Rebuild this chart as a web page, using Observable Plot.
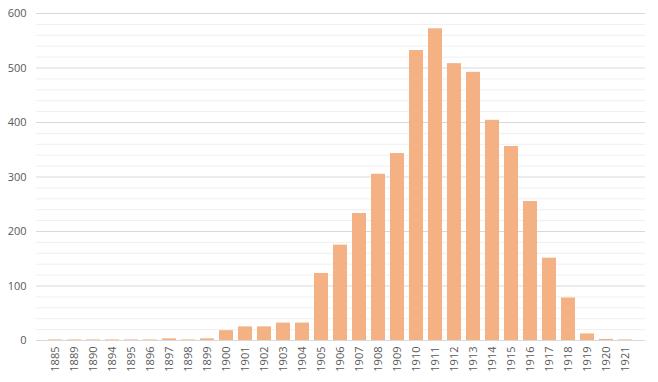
<!DOCTYPE html>
<html>
<head>
<meta charset="utf-8">
<script src="https://cdn.jsdelivr.net/npm/d3@7"></script>
<script src="https://cdn.jsdelivr.net/npm/@observablehq/plot@0.6"></script>
<style>
  html, body { margin: 0; padding: 0; background: #fff; }
</style>
</head>
<body>
<div id="chart"></div>
<script>
const years = ["1885","1889","1890","1894","1895","1896","1897","1898","1899","1900",
  "1901","1902","1903","1904","1905","1906","1907","1908","1909","1910",
  "1911","1912","1913","1914","1915","1916","1917","1918","1919","1920","1921"];
const counts = [1,1,1,1,1,1,3,1,3,18,
  25,25,32,32,123,175,233,305,343,532,
  572,508,492,404,356,255,151,78,12,2,1];
const yTicks = [0,100,200,300,400,500,600];
const minorTicks = [20,40,60,80,120,140,160,180,220,240,260,280,320,340,360,380,420,440,460,480,520,540,560,580];

const data = years.map((year, i) => ({year, count: counts[i]}));

const chart = Plot.plot({
  width: 658,
  height: 382,
  marginLeft: 36,
  marginRight: 13,
  marginTop: 13,
  marginBottom: 42,
  style: {fontFamily: "'Open Sans', 'Liberation Sans', sans-serif", fontSize: "11px", color: "#595959", background: "#fff"},
  x: {domain: years, paddingInner: 0.24, paddingOuter: 0.12, label: null},
  y: {domain: [0, 600], label: null},
  marks: [
    Plot.ruleY(minorTicks, {stroke: "#efefef", strokeWidth: 1}),
    Plot.ruleY(yTicks, {stroke: "#d9d9d9", strokeWidth: 1}),
    Plot.barY(data, {x: "year", y: "count", fill: "#f4b183"}),
    Plot.axisY({ticks: yTicks, tickSize: 0, tickPadding: 10, label: null, fill: "#595959"}),
    Plot.axisX({tickRotate: -90, tickSize: 0, tickPadding: 6, label: null, fill: "#595959"})
  ]
});
document.getElementById("chart").appendChild(chart);
</script>
</body>
</html>
